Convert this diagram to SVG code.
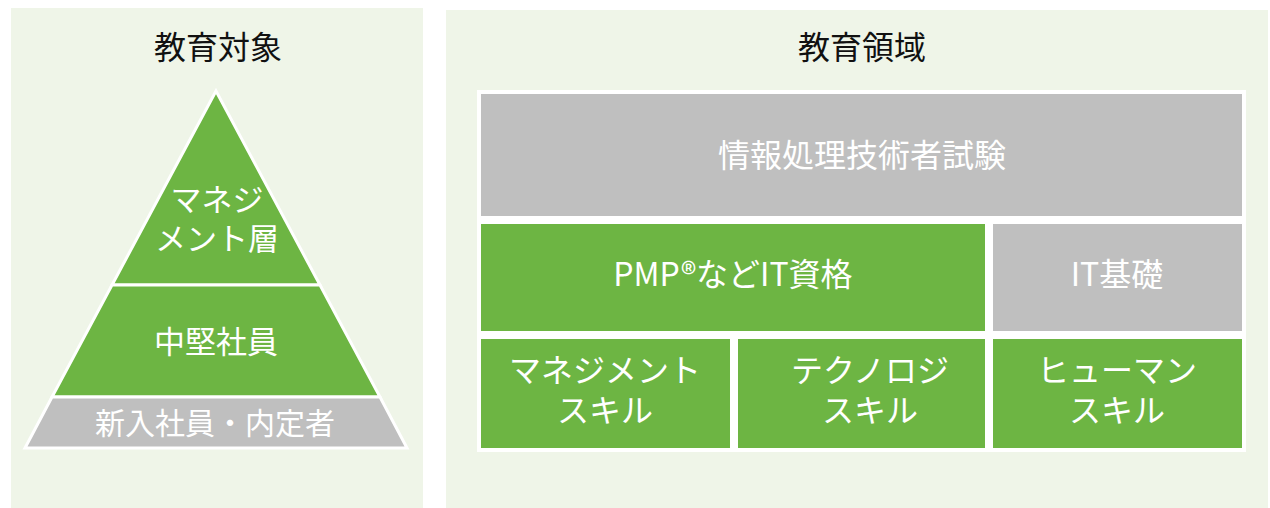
<svg xmlns="http://www.w3.org/2000/svg" width="1270" height="508" viewBox="0 0 1270 508">
<style>
.panel{fill:#EFF5E8}
.g{fill:#6DB543}
.s{fill:#BFBFBF}
.tier{stroke:#FFFFFF;stroke-width:3;stroke-linejoin:miter}
.t{font-family:"Noto Sans CJK JP","Noto Sans",sans-serif;font-size:32px;text-anchor:middle;dominant-baseline:central}
.w{fill:#FFFFFF}
.k{fill:#111111}
</style>
<rect width="1270" height="508" fill="#FFFFFF"/>
<g id="panel-left">
<rect class="panel" x="11" y="8" width="412" height="500"/>
<text class="t k" x="218" y="45">教育対象</text>
</g>
<g id="panel-right">
<rect class="panel" x="446" y="10" width="822" height="498"/>
<text class="t k" x="862" y="45">教育領域</text>
</g>
<g id="tier-management">
<polygon class="g tier" points="216,91 320,285 112,285"/>
<text class="t w" style="font-size:31px"><tspan x="217" y="197">マネジ</tspan><tspan x="217" y="236">メント層</tspan></text>
</g>
<g id="tier-middle">
<polygon class="g tier" points="112,285 320,285 380,397 52,397"/>
<text class="t w" x="216" y="339" style="font-size:31px">中堅社員</text>
</g>
<g id="tier-new">
<polygon class="s tier" points="52,397 380,397 407,448 25,448"/>
<text class="t w" x="215" y="421" style="font-size:30px">新入社員・内定者</text>
</g>
<rect x="477" y="90" width="769" height="362" fill="#FFFFFF"/>
<g id="box-exam">
<rect class="s" x="481" y="94" width="761" height="122"/>
<text class="t w" x="862" y="153">情報処理技術者試験</text>
</g>
<g id="box-pmp">
<rect class="g" x="481" y="224" width="504" height="107"/>
<text class="t w" x="733" y="272">PMP®などIT資格</text>
</g>
<g id="box-itbasic">
<rect class="s" x="993" y="224" width="249" height="107"/>
<text class="t w" x="1117" y="272">IT基礎</text>
</g>
<g id="box-mgmt">
<rect class="g" x="481" y="339" width="249" height="109"/>
<text class="t w"><tspan x="605" y="368">マネジメント</tspan><tspan x="605" y="408">スキル</tspan></text>
</g>
<g id="box-tech">
<rect class="g" x="738" y="339" width="247" height="109"/>
<text class="t w"><tspan x="870" y="368">テクノロジ</tspan><tspan x="870" y="408">スキル</tspan></text>
</g>
<g id="box-human">
<rect class="g" x="993" y="339" width="249" height="109"/>
<text class="t w"><tspan x="1117" y="368">ヒューマン</tspan><tspan x="1117" y="408">スキル</tspan></text>
</g>
<g id="connectors"></g>
</svg>
